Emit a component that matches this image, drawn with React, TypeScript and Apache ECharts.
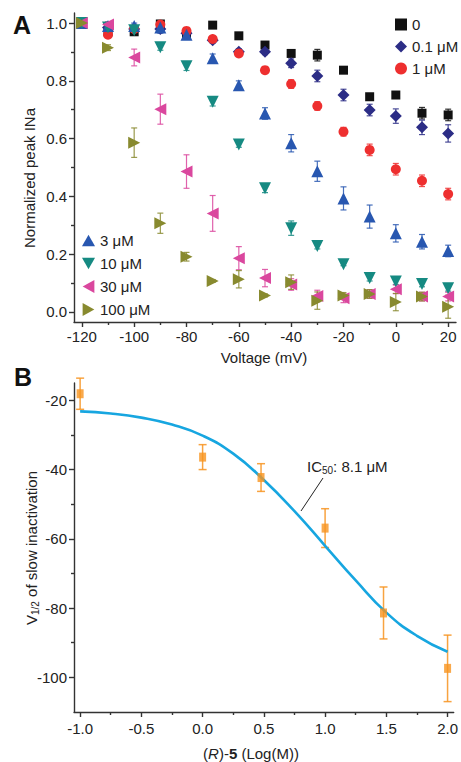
import React, { useEffect, useRef } from "react";
import * as echarts from "echarts";

const FONT = "'Liberation Sans', Arial, Helvetica, sans-serif";

// ---------- Panel A data ----------
const voltages = [-120, -110, -100, -90, -80, -70, -60, -50, -40, -30, -20, -10, 0, 10, 20];
const c0 = [1.0, 0.97, 0.97, 0.997, 0.958, 0.993, 0.956, 0.924, 0.895, 0.889, 0.837, 0.745, 0.751, 0.688, 0.682];
const c0Err = [0.005, 0.01, 0.01, 0.01, 0.01, 0.005, 0.005, 0.005, 0.005, 0.02, 0.01, 0.005, 0.005, 0.02, 0.02];
const c01 = [1.0, 0.985, 0.98, 0.98, 0.965, 0.941, 0.901, 0.901, 0.861, 0.817, 0.751, 0.699, 0.678, 0.639, 0.618];
const c01Err = [0.005, 0.01, 0.01, 0.01, 0.01, 0.01, 0.01, 0.01, 0.015, 0.02, 0.02, 0.02, 0.025, 0.025, 0.03];
const c1 = [1.0, 0.96, 0.98, 0.995, 0.973, 0.945, 0.895, 0.837, 0.789, 0.713, 0.624, 0.561, 0.494, 0.454, 0.408];
const c1Err = [0.005, 0.01, 0.01, 0.01, 0.01, 0.01, 0.01, 0.01, 0.015, 0.015, 0.015, 0.02, 0.02, 0.02, 0.02];
const c3 = [1.0, 0.99, 0.99, 0.985, 0.96, 0.878, 0.785, 0.687, 0.584, 0.487, 0.393, 0.33, 0.272, 0.243, 0.211];
const c3Err = [0.005, 0.01, 0.01, 0.02, 0.01, 0.015, 0.015, 0.02, 0.03, 0.035, 0.04, 0.04, 0.03, 0.025, 0.02];
const c10 = [1.0, 0.985, 0.975, 0.916, 0.851, 0.728, 0.58, 0.428, 0.29, 0.228, 0.165, 0.117, 0.105, 0.097, 0.082];
const c10Err = [0.005, 0.01, 0.01, 0.01, 0.015, 0.015, 0.01, 0.015, 0.025, 0.01, 0.005, 0.01, 0.01, 0.01, 0.01];
const c30 = [1.0, 0.995, 0.881, 0.702, 0.486, 0.341, 0.186, 0.117, 0.095, 0.055, 0.047, 0.062, 0.078, 0.053, 0.053];
const c30Err = [0.005, 0.01, 0.029, 0.052, 0.058, 0.062, 0.04, 0.03, 0.02, 0.02, 0.015, 0.015, 0.015, 0.015, 0.015];
const c100 = [1.0, 0.915, 0.586, 0.307, 0.191, 0.107, 0.113, 0.057, 0.103, 0.039, 0.057, 0.062, 0.034, 0.053, 0.018];
const c100Err = [0.005, 0.01, 0.051, 0.035, 0.015, 0.005, 0.03, 0.005, 0.025, 0.03, 0.01, 0.015, 0.03, 0.015, 0.04];

const aXTicks = [-120, -100, -80, -60, -40, -20, 0, 20];
const aXMinor = [-110, -90, -70, -50, -30, -10, 10];
const aYTicks = [0, 0.2, 0.4, 0.6, 0.8, 1.0];
const aYMinor = [0.1, 0.3, 0.5, 0.7, 0.9];

// ---------- Panel B data ----------
const logConc = [-1, 0, 0.477, 1, 1.477, 2];
const vHalf = [-18.1, -36.4, -42.3, -56.9, -81.4, -97.4];
const vHalfErr = [4.5, 3.6, 4.0, 5.6, 7.5, 9.6];
const fitX = [-1.0, -0.75, -0.5, -0.25, 0.0, 0.25, 0.5, 0.75, 1.0, 1.25, 1.5, 1.75, 2.0];
const fitY = [-23.2, -23.8, -25.0, -27.0, -30.2, -35.4, -43.0, -52.0, -62.0, -72.0, -81.3, -88.0, -92.6];

const bXTicks = [-1, -0.5, 0, 0.5, 1, 1.5, 2];
const bXMinor = [-0.75, -0.25, 0.25, 0.75, 1.25, 1.75];
const bYTicks = [-100, -80, -60, -40, -20];
const bYMinor = [-90, -70, -50, -30];

const SYM_UP = "path://M5,0 L10,9 L0,9 Z";
const SYM_DOWN = "path://M0,0 L10,0 L5,9 Z";
const SYM_LEFT = "path://M0,5 L9,0 L9,10 Z";
const SYM_RIGHT = "path://M0,0 L9,5 L0,10 Z";

const seriesA = [
  { name: "0", data: c0, err: c0Err, color: "#111111", symbol: "rect", size: 9 },
  { name: "0.1 μM", data: c01, err: c01Err, color: "#2c2d86", symbol: "diamond", size: 12 },
  { name: "1 μM", data: c1, err: c1Err, color: "#ee2f2f", symbol: "circle", size: 10 },
  { name: "3 μM", data: c3, err: c3Err, color: "#2857b0", symbol: SYM_UP, size: 12 },
  { name: "10 μM", data: c10, err: c10Err, color: "#168a82", symbol: SYM_DOWN, size: 12 },
  { name: "30 μM", data: c30, err: c30Err, color: "#da479e", symbol: SYM_LEFT, size: 12 },
  { name: "100 μM", data: c100, err: c100Err, color: "#888a2f", symbol: SYM_RIGHT, size: 12 },
];

function errorBars(xIdx: number, yIdx: number, xs: number[], ys: number[], es: number[], color: string, cap: number, lw: number) {
  return {
    type: "custom",
    xAxisIndex: xIdx,
    yAxisIndex: yIdx,
    silent: true,
    z: 1,
    encode: { x: 0, y: [1, 2] },
    data: xs.map((x, i) => [x, ys[i] - es[i], ys[i] + es[i]]),
    renderItem: (params: any, api: any) => {
      const x = api.value(0);
      const lo = api.coord([x, api.value(1)]);
      const hi = api.coord([x, api.value(2)]);
      const style = { stroke: color, lineWidth: lw, opacity: 0.85 };
      return {
        type: "group",
        children: [
          { type: "line", shape: { x1: lo[0], y1: lo[1], x2: hi[0], y2: hi[1] }, style },
          { type: "line", shape: { x1: hi[0] - cap / 2, y1: hi[1], x2: hi[0] + cap / 2, y2: hi[1] }, style },
          { type: "line", shape: { x1: lo[0] - cap / 2, y1: lo[1], x2: lo[0] + cap / 2, y2: lo[1] }, style },
        ],
      };
    },
  };
}

const axisLineStyle = { color: "#333", width: 1.4 };
const labelStyle = { color: "#222", fontSize: 15, fontFamily: FONT };

function fmt(v: number, ticks: number[]) {
  const needDecimal = ticks.some((t) => Math.abs(t - Math.round(t)) > 1e-9);
  if (needDecimal) return v.toFixed(1);
  return String(Math.round(v));
}

function mainAxis(grid: number, min: number, max: number, ticks: number[], pos: string, margin: number) {
  return {
    type: "value",
    gridIndex: grid,
    min,
    max,
    position: pos,
    splitLine: { show: false },
    axisLine: { show: true, onZero: false, lineStyle: axisLineStyle },
    axisTick: { show: true, inside: false, length: 5, customValues: ticks, lineStyle: axisLineStyle },
    axisLabel: { show: true, margin, customValues: ticks, ...labelStyle, formatter: (v: number) => fmt(v, ticks) },
  };
}

function minorAxis(grid: number, min: number, max: number, ticks: number[], pos: string) {
  return {
    type: "value",
    gridIndex: grid,
    min,
    max,
    position: pos,
    splitLine: { show: false },
    axisLine: { show: false, onZero: false },
    axisTick: { show: true, inside: false, length: 3, customValues: ticks, lineStyle: axisLineStyle },
    axisLabel: { show: false },
  };
}

export default function App() {
  const ref = useRef<HTMLDivElement>(null);

  useEffect(() => {
    document.body.style.margin = "0";
    if (!ref.current) return;
    const chart = echarts.init(ref.current, null, { renderer: "svg" });

    const series: any[] = [];
    seriesA.forEach((s) => {
      series.push(errorBars(0, 0, voltages, s.data, s.err, s.color, 6, 1.2));
    });
    seriesA.forEach((s) => {
      series.push({
        type: "scatter",
        name: s.name,
        xAxisIndex: 0,
        yAxisIndex: 0,
        symbol: s.symbol,
        symbolSize: s.size,
        itemStyle: { color: s.color, opacity: 1 },
        z: 3,
        data: voltages.map((v, i) => [v, s.data[i]]),
      });
    });

    series.push({
      type: "line",
      name: "fit",
      xAxisIndex: 2,
      yAxisIndex: 2,
      smooth: 0.5,
      showSymbol: false,
      symbol: "none",
      lineStyle: { color: "#17a6e0", width: 2.6 },
      z: 2,
      data: fitX.map((x, i) => [x, fitY[i]]),
    });
    series.push(errorBars(2, 2, logConc, vHalf, vHalfErr, "#f7931e", 8, 1.5));
    series.push({
      type: "scatter",
      name: "vhalf",
      xAxisIndex: 2,
      yAxisIndex: 2,
      symbol: "rect",
      symbolSize: [7, 9],
      itemStyle: { color: "#f7931e" },
      z: 4,
      data: logConc.map((x, i) => [x, vHalf[i]]),
    });

    const option: any = {
      animation: false,
      backgroundColor: "#fff",
      textStyle: { fontFamily: FONT },
      grid: [
        { left: 74, top: 13, width: 382, height: 309 },
        { left: 74, top: 383, width: 381, height: 329 },
      ],
      xAxis: [
        mainAxis(0, -123, 23, aXTicks, "bottom", 7),
        minorAxis(0, -123, 23, aXMinor, "bottom"),
        mainAxis(1, -1.05, 2.05, bXTicks, "bottom", 9),
        minorAxis(1, -1.05, 2.05, bXMinor, "bottom"),
      ],
      yAxis: [
        mainAxis(0, -0.035, 1.035, aYTicks, "left", 7),
        minorAxis(0, -0.035, 1.035, aYMinor, "left"),
        mainAxis(1, -110, -15, bYTicks, "left", 7),
        minorAxis(1, -110, -15, bYMinor, "left"),
      ],
      legend: [
        {
          data: ["0", "0.1 μM", "1 μM"],
          orient: "vertical",
          left: 395,
          top: 17,
          itemWidth: 12,
          itemHeight: 12,
          itemGap: 7,
          padding: 0,
          selectedMode: false,
          textStyle: { fontSize: 15, color: "#222", fontFamily: FONT },
        },
        {
          data: ["3 μM", "10 μM", "30 μM", "100 μM"],
          orient: "vertical",
          left: 82,
          top: 233,
          itemWidth: 13,
          itemHeight: 13,
          itemGap: 8,
          padding: 0,
          selectedMode: false,
          textStyle: { fontSize: 15, color: "#222", fontFamily: FONT },
        },
      ],
      graphic: [
        { type: "text", left: 13, top: 12, style: { text: "A", font: `bold 25px ${FONT}`, fill: "#111" } },
        { type: "text", left: 14, top: 364, style: { text: "B", font: `bold 25px ${FONT}`, fill: "#111" } },
        {
          type: "text",
          x: 29,
          y: 178,
          rotation: Math.PI / 2,
          style: { text: "Normalized peak INa", fontSize: 15, fontFamily: FONT, fill: "#222", align: "center", verticalAlign: "middle" },
        },
        {
          type: "text",
          x: 264,
          y: 357,
          style: { text: "Voltage (mV)", fontSize: 15, fontFamily: FONT, fill: "#222", align: "center", verticalAlign: "middle" },
        },
        {
          type: "text",
          x: 31,
          y: 548,
          rotation: Math.PI / 2,
          style: {
            text: "{a|V}{s|1/2}{a| of slow inactivation}",
            align: "center",
            verticalAlign: "middle",
            fill: "#222",
            rich: {
              a: { fontSize: 15, fontFamily: FONT, fill: "#222", lineHeight: 18, verticalAlign: "middle" },
              s: { fontSize: 10, fontFamily: FONT, fill: "#222", lineHeight: 18, verticalAlign: "bottom", padding: [8, 0, 0, 0] },
            },
          },
        },
        {
          type: "text",
          x: 251,
          y: 753,
          style: {
            text: "{a|(}{i|R}{a|)-}{b|5}{a| (Log(M))}",
            align: "center",
            verticalAlign: "middle",
            fill: "#222",
            rich: {
              a: { fontSize: 15, fontFamily: FONT, fill: "#222" },
              i: { fontSize: 15, fontFamily: FONT, fontStyle: "italic", fill: "#222" },
              b: { fontSize: 15, fontFamily: FONT, fontWeight: "bold", fill: "#222" },
            },
          },
        },
        {
          type: "text",
          x: 307,
          y: 466,
          style: {
            text: "{a|IC}{s|50}{a|: 8.1 μM}",
            align: "left",
            verticalAlign: "middle",
            fill: "#222",
            rich: {
              a: { fontSize: 15, fontFamily: FONT, fill: "#222", lineHeight: 18, verticalAlign: "middle" },
              s: { fontSize: 10, fontFamily: FONT, fill: "#222", lineHeight: 18, verticalAlign: "bottom", padding: [8, 0, 0, 0] },
            },
          },
        },
        {
          type: "line",
          shape: { x1: 323, y1: 478, x2: 301, y2: 511 },
          style: { stroke: "#222", lineWidth: 1 },
        },
      ],
      series,
    };

    chart.setOption(option);
    return () => chart.dispose();
  }, []);

  return <div ref={ref} style={{ width: 461, height: 762 }} />;
}
